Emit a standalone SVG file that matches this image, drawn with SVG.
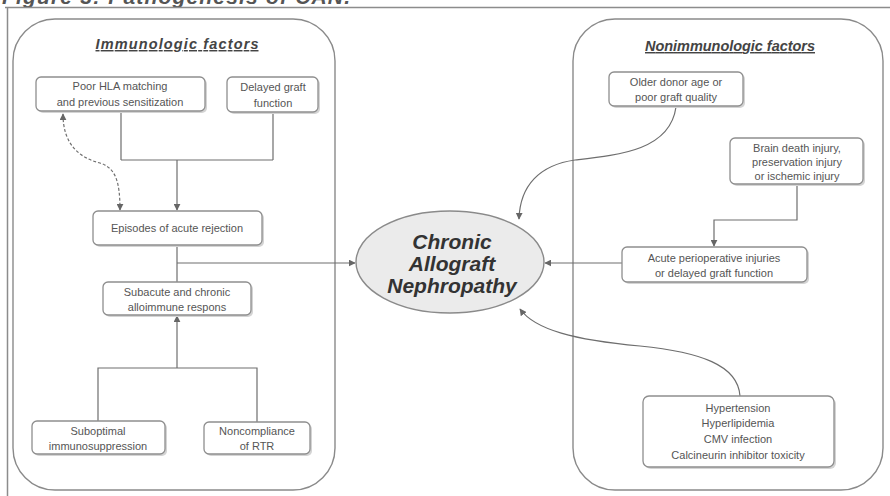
<svg xmlns="http://www.w3.org/2000/svg" width="890" height="496" viewBox="0 0 890 496">
<defs>
<marker id="ah" viewBox="0 0 10 10" refX="9" refY="5" markerWidth="7" markerHeight="7" orient="auto-start-reverse" markerUnits="userSpaceOnUse">
<path d="M0,0 L10,5 L0,10 z" fill="#666"/>
</marker>
<style>
.frame{fill:none;stroke:#8c8c8c;stroke-width:1.5}
.panel{fill:none;stroke:#8a8a8a;stroke-width:1.4}
.box{fill:#fff;stroke:#8e8e8e;stroke-width:1.3}
.shadow{fill:#d4d4d4;stroke:none}
.t{font-family:"Liberation Sans",Arial,sans-serif;font-size:11px;fill:#555;text-anchor:middle}
.h{font-family:"Liberation Sans",Arial,sans-serif;font-size:14.5px;font-weight:bold;font-style:italic;fill:#444;text-anchor:middle;text-decoration:underline}
.c{fill:none;stroke:#6e6e6e;stroke-width:1.2}
.big{font-family:"Liberation Sans",Arial,sans-serif;font-size:21px;font-weight:bold;font-style:italic;fill:#333;text-anchor:middle}
</style>
</defs>
<rect width="890" height="496" fill="#fff"/>
<text x="2" y="4" font-family="Liberation Sans, Arial, sans-serif" font-size="21" font-weight="bold" font-style="italic" fill="#555" textLength="348">Figure 3: Pathogenesis of CAN.</text>
<path class="frame" d="M5,7.5 H890 M7.5,7.5 V496"/>

<g id="panel-immunologic">
<rect class="panel" x="13" y="19" width="322" height="471" rx="42" ry="42"/>
<text class="h" x="177" y="49" textLength="163">Immunologic factors</text>
</g>
<g id="panel-nonimmunologic">
<rect class="panel" x="573" y="19" width="310" height="471" rx="42" ry="42"/>
<text class="h" x="730" y="51" textLength="170">Nonimmunologic factors</text>
</g>

<g id="connectors">
<path class="c" d="M121,111 V160 M273,112 V160 M121,160 H273"/>
<path class="c" d="M177,160 V210" marker-end="url(#ah)"/>
<path class="c" d="M63,114 C63,145 80,158 100,163 C115,168 120,180 120,210" stroke-dasharray="3,2" marker-start="url(#ah)" marker-end="url(#ah)"/>
<path class="c" d="M177,245 V282"/>
<path class="c" d="M177,263 H355" marker-end="url(#ah)"/>
<path class="c" d="M98,421 V368 H257 V422"/>
<path class="c" d="M177,368 V316" marker-end="url(#ah)"/>
<path class="c" d="M676,107 C670,150 620,155 575,160 C540,165 520,185 519,219" marker-end="url(#ah)"/>
<path class="c" d="M797,184 V220 H714 V246" marker-end="url(#ah)"/>
<path class="c" d="M622,263 H545" marker-end="url(#ah)"/>
<path class="c" d="M740,396 C738,365 700,352 640,346 C575,340 535,330 520,309" marker-end="url(#ah)"/>
</g>

<g id="can">
<ellipse cx="450" cy="262" rx="94" ry="51" fill="#ebebeb" stroke="#8a8a8a" stroke-width="1.4"/>
<text class="big" x="452" y="249">Chronic</text>
<text class="big" x="452" y="271">Allograft</text>
<text class="big" x="452" y="293">Nephropathy</text>
</g>

<g id="poor-hla">
<rect class="shadow" x="38" y="79" width="169" height="34" rx="5"/>
<rect class="box" x="36" y="77" width="169" height="34" rx="5"/>
<text class="t" x="120" y="90">Poor HLA matching</text>
<text class="t" x="120" y="106">and previous sensitization</text>
</g>
<g id="delayed-graft">
<rect class="shadow" x="229" y="79" width="91" height="35" rx="5"/>
<rect class="box" x="227" y="77" width="91" height="35" rx="5"/>
<text class="t" x="273" y="91">Delayed graft</text>
<text class="t" x="273" y="107">function</text>
</g>
<g id="episodes">
<rect class="shadow" x="95" y="213" width="169" height="34" rx="5"/>
<rect class="box" x="93" y="211" width="169" height="34" rx="5"/>
<text class="t" x="177" y="232">Episodes of acute rejection</text>
</g>
<g id="subacute">
<rect class="shadow" x="105" y="284" width="148" height="33" rx="5"/>
<rect class="box" x="103" y="282" width="148" height="33" rx="5"/>
<text class="t" x="177" y="296">Subacute and chronic</text>
<text class="t" x="177" y="311">alloimmune respons</text>
</g>
<g id="suboptimal">
<rect class="shadow" x="34" y="423" width="133" height="33" rx="5"/>
<rect class="box" x="32" y="421" width="133" height="33" rx="5"/>
<text class="t" x="98" y="435">Suboptimal</text>
<text class="t" x="98" y="450">immunosuppression</text>
</g>
<g id="noncompliance">
<rect class="shadow" x="206" y="424" width="106" height="32" rx="5"/>
<rect class="box" x="204" y="422" width="106" height="32" rx="5"/>
<text class="t" x="257" y="435">Noncompliance</text>
<text class="t" x="257" y="450">of RTR</text>
</g>

<g id="older-donor">
<rect class="shadow" x="611" y="74" width="134" height="34" rx="5"/>
<rect class="box" x="609" y="72" width="134" height="34" rx="5"/>
<text class="t" x="676" y="86">Older donor age or</text>
<text class="t" x="676" y="101">poor graft quality</text>
</g>
<g id="brain-death">
<rect class="shadow" x="732" y="140" width="133" height="46" rx="5"/>
<rect class="box" x="730" y="138" width="133" height="46" rx="5"/>
<text class="t" x="797" y="152">Brain death injury,</text>
<text class="t" x="797" y="166">preservation injury</text>
<text class="t" x="797" y="180">or ischemic injury</text>
</g>
<g id="acute-periop">
<rect class="shadow" x="624" y="249" width="185" height="35" rx="5"/>
<rect class="box" x="622" y="247" width="185" height="35" rx="5"/>
<text class="t" x="714" y="262">Acute perioperative injuries</text>
<text class="t" x="714" y="277">or delayed graft function</text>
</g>
<g id="hypertension">
<rect class="shadow" x="645" y="398" width="191" height="71" rx="6"/>
<rect class="box" x="643" y="396" width="191" height="71" rx="6"/>
<text class="t" x="738" y="412">Hypertension</text>
<text class="t" x="738" y="427">Hyperlipidemia</text>
<text class="t" x="738" y="443">CMV infection</text>
<text class="t" x="738" y="459">Calcineurin inhibitor toxicity</text>
</g>
</svg>
